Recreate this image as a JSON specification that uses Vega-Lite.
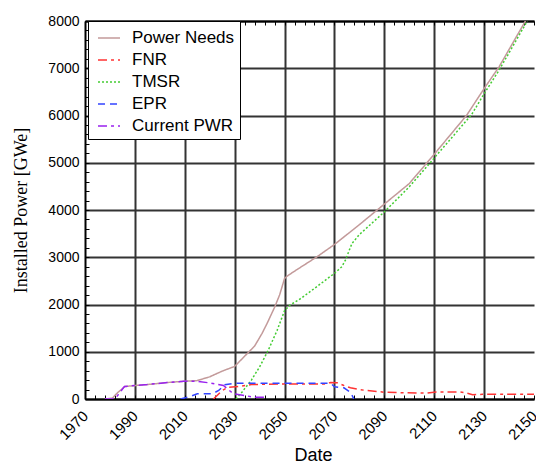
{
  "$schema": "https://vega.github.io/schema/vega-lite/v6.json",
  "width": 449,
  "height": 378,
  "autosize": "none",
  "padding": {"left": 85, "top": 21, "right": 2, "bottom": 66},
  "background": "white",
  "config": {"view": {"stroke": null}, "font": "Liberation Sans"},
  "data": {"values": [
    {"series": "Power Needs", "date": 1978, "power": 0},
    {"series": "Power Needs", "date": 1981, "power": 20},
    {"series": "Power Needs", "date": 1983, "power": 130},
    {"series": "Power Needs", "date": 1986, "power": 264},
    {"series": "Power Needs", "date": 1990, "power": 285},
    {"series": "Power Needs", "date": 1995, "power": 306},
    {"series": "Power Needs", "date": 2003, "power": 349},
    {"series": "Power Needs", "date": 2010, "power": 376},
    {"series": "Power Needs", "date": 2015, "power": 390},
    {"series": "Power Needs", "date": 2020, "power": 470},
    {"series": "Power Needs", "date": 2025, "power": 590},
    {"series": "Power Needs", "date": 2030, "power": 690},
    {"series": "Power Needs", "date": 2035, "power": 960},
    {"series": "Power Needs", "date": 2038, "power": 1120},
    {"series": "Power Needs", "date": 2041, "power": 1390},
    {"series": "Power Needs", "date": 2043, "power": 1600},
    {"series": "Power Needs", "date": 2046, "power": 1940},
    {"series": "Power Needs", "date": 2048, "power": 2200},
    {"series": "Power Needs", "date": 2050, "power": 2550},
    {"series": "Power Needs", "date": 2051, "power": 2600},
    {"series": "Power Needs", "date": 2055, "power": 2740},
    {"series": "Power Needs", "date": 2063, "power": 3010},
    {"series": "Power Needs", "date": 2070, "power": 3270},
    {"series": "Power Needs", "date": 2080, "power": 3690},
    {"series": "Power Needs", "date": 2090, "power": 4125},
    {"series": "Power Needs", "date": 2100, "power": 4560},
    {"series": "Power Needs", "date": 2110, "power": 5180},
    {"series": "Power Needs", "date": 2123, "power": 6005},
    {"series": "Power Needs", "date": 2130, "power": 6570},
    {"series": "Power Needs", "date": 2136, "power": 7030},
    {"series": "Power Needs", "date": 2147, "power": 8040},
    {"series": "FNR", "date": 2021.5, "power": 0},
    {"series": "FNR", "date": 2025, "power": 180},
    {"series": "FNR", "date": 2027.5, "power": 250},
    {"series": "FNR", "date": 2031.5, "power": 264},
    {"series": "FNR", "date": 2036.7, "power": 306},
    {"series": "FNR", "date": 2048.7, "power": 320},
    {"series": "FNR", "date": 2066, "power": 320},
    {"series": "FNR", "date": 2068.5, "power": 350},
    {"series": "FNR", "date": 2071, "power": 345},
    {"series": "FNR", "date": 2073.8, "power": 285},
    {"series": "FNR", "date": 2076.4, "power": 237},
    {"series": "FNR", "date": 2080.4, "power": 195},
    {"series": "FNR", "date": 2089.7, "power": 145},
    {"series": "FNR", "date": 2099, "power": 130},
    {"series": "FNR", "date": 2107, "power": 125},
    {"series": "FNR", "date": 2110.8, "power": 150},
    {"series": "FNR", "date": 2120, "power": 150},
    {"series": "FNR", "date": 2122.7, "power": 130},
    {"series": "FNR", "date": 2125.4, "power": 89},
    {"series": "FNR", "date": 2129.4, "power": 100},
    {"series": "FNR", "date": 2150, "power": 100},
    {"series": "TMSR", "date": 2030.5, "power": 0},
    {"series": "TMSR", "date": 2033, "power": 150},
    {"series": "TMSR", "date": 2036.7, "power": 400},
    {"series": "TMSR", "date": 2040, "power": 680},
    {"series": "TMSR", "date": 2043.4, "power": 1025},
    {"series": "TMSR", "date": 2047, "power": 1450},
    {"series": "TMSR", "date": 2050, "power": 1870},
    {"series": "TMSR", "date": 2052, "power": 1980},
    {"series": "TMSR", "date": 2056.6, "power": 2130},
    {"series": "TMSR", "date": 2063, "power": 2380},
    {"series": "TMSR", "date": 2070, "power": 2660},
    {"series": "TMSR", "date": 2073, "power": 2800},
    {"series": "TMSR", "date": 2074.4, "power": 2940},
    {"series": "TMSR", "date": 2077, "power": 3290},
    {"series": "TMSR", "date": 2080, "power": 3480},
    {"series": "TMSR", "date": 2085, "power": 3720},
    {"series": "TMSR", "date": 2090, "power": 3960},
    {"series": "TMSR", "date": 2100, "power": 4490},
    {"series": "TMSR", "date": 2110, "power": 5100},
    {"series": "TMSR", "date": 2125, "power": 6020},
    {"series": "TMSR", "date": 2130, "power": 6460},
    {"series": "TMSR", "date": 2136, "power": 6960},
    {"series": "TMSR", "date": 2147.3, "power": 8000},
    {"series": "EPR", "date": 2008.3, "power": 0},
    {"series": "EPR", "date": 2012, "power": 50},
    {"series": "EPR", "date": 2015, "power": 110},
    {"series": "EPR", "date": 2021, "power": 110},
    {"series": "EPR", "date": 2023.6, "power": 180},
    {"series": "EPR", "date": 2026, "power": 300},
    {"series": "EPR", "date": 2030, "power": 334},
    {"series": "EPR", "date": 2068.5, "power": 334},
    {"series": "EPR", "date": 2070, "power": 260},
    {"series": "EPR", "date": 2073.8, "power": 237},
    {"series": "EPR", "date": 2076.4, "power": 144},
    {"series": "EPR", "date": 2077.8, "power": 0},
    {"series": "Current PWR", "date": 1978, "power": 0},
    {"series": "Current PWR", "date": 1982, "power": 0},
    {"series": "Current PWR", "date": 1985.8, "power": 264},
    {"series": "Current PWR", "date": 1990, "power": 285},
    {"series": "Current PWR", "date": 1995, "power": 306},
    {"series": "Current PWR", "date": 2003, "power": 349},
    {"series": "Current PWR", "date": 2009.6, "power": 376},
    {"series": "Current PWR", "date": 2015, "power": 376},
    {"series": "Current PWR", "date": 2020, "power": 340},
    {"series": "Current PWR", "date": 2025.5, "power": 285},
    {"series": "Current PWR", "date": 2029.5, "power": 110},
    {"series": "Current PWR", "date": 2034, "power": 74},
    {"series": "Current PWR", "date": 2038, "power": 35},
    {"series": "Current PWR", "date": 2042, "power": 35}
  ]},
  "layer": [
    {
      "mark": {"type": "line", "strokeWidth": 1.5, "clip": true},
      "encoding": {
        "x": {
          "field": "date", "type": "quantitative",
          "scale": {"domain": [1970, 2150], "nice": false, "zero": false},
          "axis": {
            "orient": "bottom",
            "values": [1970,1974,1978,1982,1986,1990,1994,1998,2002,2006,2010,2014,2018,2022,2026,2030,2034,2038,2042,2046,2050,2054,2058,2062,2066,2070,2074,2078,2082,2086,2090,2094,2098,2102,2106,2110,2114,2118,2122,2126,2130,2134,2138,2142,2146,2150],
            "format": "d",
            "labelExpr": "(datum.value - 1970) % 20 === 0 ? datum.label : ''",
            "labelOverlap": false,
            "labelFlush": false,
            "labelBound": false,
            "labelAngle": -45,
            "labelAlign": "right",
            "labelBaseline": "middle",
            "labelFontSize": 15,
            "labelColor": "black",
            "labelPadding": 18,
            "tickSize": -4,
            "tickColor": "black",
            "tickWidth": 1,
            "grid": true,
            "gridColor": "#333333",
            "gridWidth": 2,
            "gridOpacity": {"condition": {"test": "(datum.value - 1970) % 20 === 0 && datum.value > 1970 && datum.value < 2150", "value": 1}, "value": 0},
            "domainColor": "black",
            "domainWidth": 2,
            "title": "Date",
            "titleFontSize": 18,
            "titleFontWeight": "normal",
            "titleColor": "black",
            "titleX": 228,
            "titleY": 61,
            "titleBaseline": "alphabetic",
            "titleAlign": "center"
          }
        },
        "y": {
          "field": "power", "type": "quantitative",
          "scale": {"domain": [0, 8000], "nice": false},
          "axis": {
            "values": [0,200,400,600,800,1000,1200,1400,1600,1800,2000,2200,2400,2600,2800,3000,3200,3400,3600,3800,4000,4200,4400,4600,4800,5000,5200,5400,5600,5800,6000,6200,6400,6600,6800,7000,7200,7400,7600,7800,8000],
            "format": "d",
            "labelExpr": "datum.value % 1000 === 0 ? datum.label : ''",
            "labelOverlap": false,
            "labelFlush": false,
            "labelBound": false,
            "labelFontSize": 14,
            "labelColor": "black",
            "labelPadding": 10,
            "tickSize": -4,
            "tickColor": "black",
            "tickWidth": 1,
            "grid": true,
            "gridColor": "#333333",
            "gridWidth": 2,
            "gridOpacity": {"condition": {"test": "datum.value % 1000 === 0", "value": 1}, "value": 0},
            "domainColor": "black",
            "domainWidth": 2,
            "title": "Installed Power [GWe]",
            "titleFont": "Liberation Serif",
            "titleFontSize": 18,
            "titleFontWeight": "normal",
            "titleColor": "black",
            "titlePadding": 17
          }
        },
        "color": {
          "field": "series", "type": "nominal",
          "scale": {"domain": ["Power Needs", "FNR", "TMSR", "EPR", "Current PWR"], "range": ["#c39a9a", "#ff3333", "#44cc33", "#3344ff", "#9922ee"]},
          "legend": {
            "title": null, "orient": "none", "legendX": 3, "legendY": 0,
            "padding": 5, "symbolOffset": 4, "rowPadding": 2,
            "symbolType": "stroke", "symbolSize": 484, "symbolStrokeWidth": 1.5,
            "labelFontSize": 17, "labelColor": "black", "labelOffset": 11,
            "strokeColor": "black", "fillColor": "white", "cornerRadius": 0
          }
        },
        "strokeDash": {
          "field": "series", "type": "nominal",
          "scale": {"domain": ["Power Needs", "FNR", "TMSR", "EPR", "Current PWR"], "range": [[1, 0], [9, 4, 3, 4], [2, 2], [7, 5], [9, 4, 3, 4]]},
          "legend": {
            "title": null, "orient": "none", "legendX": 3, "legendY": 0,
            "padding": 5, "symbolOffset": 4, "rowPadding": 2,
            "symbolType": "stroke", "symbolSize": 484, "symbolStrokeWidth": 1.5,
            "labelFontSize": 17, "labelColor": "black", "labelOffset": 11,
            "strokeColor": "black", "fillColor": "white", "cornerRadius": 0
          }
        }
      }
    },
    {
      "mark": {"type": "rule", "strokeOpacity": 0},
      "encoding": {
        "x": {
          "field": "date", "type": "quantitative",
          "axis": {
            "orient": "top",
            "values": [1970,1974,1978,1982,1986,1990,1994,1998,2002,2006,2010,2014,2018,2022,2026,2030,2034,2038,2042,2046,2050,2054,2058,2062,2066,2070,2074,2078,2082,2086,2090,2094,2098,2102,2106,2110,2114,2118,2122,2126,2130,2134,2138,2142,2146,2150],
            "labels": false,
            "grid": false,
            "tickSize": -4,
            "tickColor": "black",
            "tickWidth": 1,
            "domainColor": "black",
            "domainWidth": 2,
            "title": null
          }
        }
      }
    }
  ],
  "resolve": {"axis": {"x": "independent"}}
}
